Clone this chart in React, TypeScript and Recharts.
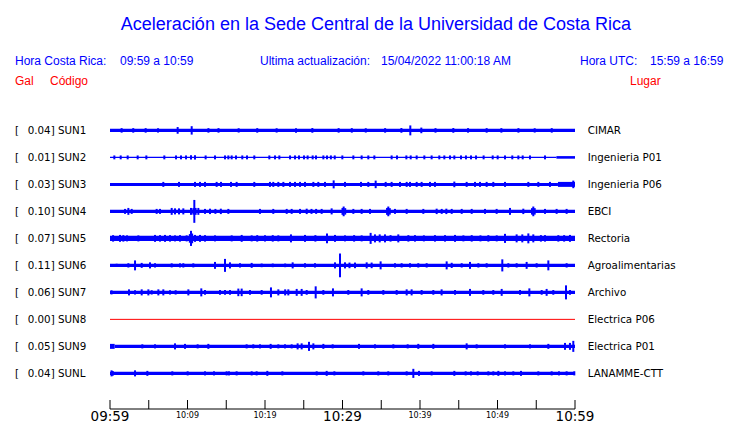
import React from "react";
import { ComposedChart, XAxis, YAxis, Scatter, ErrorBar, ReferenceArea, ReferenceLine } from "recharts";

const STATIONS = ["SUN1", "SUN2", "SUN3", "SUN4", "SUN5", "SUN6", "SUN7", "SUN8", "SUN9", "SUNL"];
const PEAK_GAL = ["0.04", "0.01", "0.03", "0.10", "0.07", "0.11", "0.06", "0.00", "0.05", "0.04"];
const PLACES = [
  "CIMAR",
  "Ingenieria P01",
  "Ingenieria P06",
  "EBCI",
  "Rectoria",
  "Agroalimentarias",
  "Archivo",
  "Electrica P06",
  "Electrica P01",
  "LANAMME-CTT",
];

// minutes after 09:59
const TICK_MINUTES = [0, 5, 10, 15, 20, 25, 30, 35, 40, 45, 50, 55, 60];
const TICK_LABELS = ["09:59", "", "10:09", "", "10:19", "", "10:29", "", "10:39", "", "10:49", "", "10:59"];
const BIG_TICKS = ["09:59", "10:29", "10:59"];

// background band of each trace: [from min, to min, half amplitude in Gal]
const sun1Base = [[0, 60, 0.016]];
const sun2Base = [[0, 57.6, 0.005], [57.6, 60, 0.012]];
const sun3Base = [[0, 57.8, 0.014], [57.8, 60, 0.023]];
const sun4Base = [[0, 60, 0.014]];
const sun5Base = [[0, 60, 0.025]];
const sun6Base = [[0, 60, 0.015]];
const sun7Base = [[0, 60, 0.016]];
const sun8Base: number[][] = [];
const sun9Base = [[0, 0.6, 0.023], [0.6, 60, 0.014]];
const sunlBase = [[0, 60, 0.015]];

// bursts: [minute, half amplitude in Gal]
const sun1Spikes = [
  [1.5, 0.021], [3.0, 0.021], [4.6, 0.021], [6.2, 0.02], [8.73, 0.031], [10.54, 0.039], [12.7, 0.021],
  [14.0, 0.021], [16.6, 0.02], [19.0, 0.021], [21.5, 0.02], [24.0, 0.021], [26.11, 0.022], [29.5, 0.021],
  [31.2, 0.021], [33.0, 0.02], [35.5, 0.021], [37.6, 0.022], [38.75, 0.046], [40.17, 0.026], [42.0, 0.021],
  [44.3, 0.022], [46.2, 0.021], [48.6, 0.021], [50.5, 0.021], [52.7, 0.021], [54.8, 0.02], [57.0, 0.021],
];
const sun2Spikes = [
  [0.56, 0.018], [1.38, 0.018], [2.28, 0.018], [3.57, 0.018], [4.69, 0.018], [7.01, 0.018], [8.52, 0.018],
  [9.16, 0.018], [9.81, 0.018], [10.45, 0.02], [10.97, 0.02], [12.34, 0.018], [13.55, 0.018], [14.84, 0.018],
  [15.27, 0.018], [15.7, 0.018], [16.26, 0.018], [17.07, 0.018], [17.68, 0.018], [18.62, 0.018], [20.56, 0.018],
  [21.29, 0.018], [21.85, 0.018], [23.23, 0.018], [23.87, 0.018], [24.39, 0.018], [25.03, 0.018], [25.5, 0.018],
  [26.15, 0.018], [26.58, 0.018], [27.53, 0.018], [28.0, 0.018], [28.5, 0.018], [29.0, 0.018], [29.98, 0.018],
  [31.4, 0.018], [32.47, 0.018], [33.33, 0.018], [34.11, 0.018], [36.34, 0.018], [37.03, 0.018], [38.24, 0.018],
  [38.8, 0.018], [39.57, 0.018], [40.56, 0.018], [41.5, 0.018], [42.49, 0.018], [43.14, 0.018], [43.87, 0.018],
  [44.43, 0.018], [45.29, 0.018], [45.93, 0.018], [46.58, 0.018], [47.23, 0.018], [48.21, 0.018], [49.38, 0.018],
  [50.02, 0.018], [50.97, 0.018], [51.91, 0.018], [52.69, 0.018], [53.25, 0.018], [54.19, 0.018], [56.13, 0.018],
];
const sun3Spikes = [
  [6.88, 0.023], [8.9, 0.023], [10.97, 0.023], [11.61, 0.023], [12.26, 0.023], [13.76, 0.023], [14.32, 0.023],
  [15.61, 0.023], [16.34, 0.023], [18.62, 0.023], [20.64, 0.023], [21.07, 0.023], [21.72, 0.023], [22.37, 0.023],
  [23.23, 0.023], [23.87, 0.023], [24.52, 0.023], [25.16, 0.023], [26.24, 0.023], [26.88, 0.023], [27.74, 0.023],
  [28.86, 0.037], [30.32, 0.023], [32.39, 0.023], [33.33, 0.023], [34.28, 0.035], [35.57, 0.023], [36.34, 0.023],
  [37.42, 0.023], [38.28, 0.023], [38.71, 0.023], [39.57, 0.023], [40.21, 0.023], [41.29, 0.023], [41.93, 0.023],
  [44.43, 0.026], [46.02, 0.023], [47.1, 0.023], [47.74, 0.023], [48.6, 0.023], [49.46, 0.023], [50.97, 0.023],
  [53.98, 0.023], [55.27, 0.023], [56.77, 0.023], [59.78, 0.035],
];
const sun4Spikes = [
  [1.94, 0.023], [2.37, 0.032], [2.8, 0.023], [6.02, 0.023], [6.45, 0.023], [7.96, 0.032], [8.39, 0.028],
  [8.9, 0.028], [9.46, 0.028], [10.45, 0.032], [10.75, 0.03], [10.88, 0.106], [11.05, 0.032], [11.4, 0.032],
  [12.26, 0.023], [12.9, 0.025], [13.6, 0.023], [14.3, 0.025], [15.27, 0.023], [19.35, 0.023], [21.07, 0.023],
  [22.8, 0.023], [23.44, 0.023], [24.52, 0.023], [25.38, 0.025], [26.0, 0.023], [26.6, 0.023], [27.31, 0.023],
  [28.6, 0.028], [30.0, 0.032], [30.15, 0.045], [30.35, 0.03], [31.4, 0.023], [32.47, 0.023], [33.55, 0.023],
  [35.75, 0.032], [35.91, 0.045], [36.1, 0.03], [36.77, 0.023], [38.28, 0.023], [40.43, 0.023], [42.15, 0.025],
  [42.8, 0.023], [43.4, 0.025], [44.09, 0.023], [45.38, 0.023], [46.67, 0.023], [48.39, 0.023], [49.89, 0.023],
  [51.61, 0.032], [53.33, 0.025], [54.45, 0.03], [54.62, 0.045], [54.8, 0.03], [56.13, 0.023], [57.63, 0.023],
  [58.92, 0.023],
];
const sun5Spikes = [
  [0.4, 0.03], [1.29, 0.032], [1.72, 0.03], [2.2, 0.028], [3.66, 0.028], [5.81, 0.032], [6.45, 0.03], [7.1, 0.032],
  [7.74, 0.03], [8.39, 0.028], [9.03, 0.03], [9.89, 0.028], [10.3, 0.04], [10.45, 0.07], [10.6, 0.045],
  [10.97, 0.032], [11.61, 0.032], [12.26, 0.03], [13.55, 0.028], [15.7, 0.028], [16.99, 0.032], [18.28, 0.028],
  [19.0, 0.03], [20.0, 0.028], [21.0, 0.03], [21.72, 0.028], [23.35, 0.037], [25.16, 0.032], [26.5, 0.03],
  [28.0, 0.045], [29.03, 0.032], [30.32, 0.028], [31.5, 0.03], [32.47, 0.028], [33.63, 0.051], [34.19, 0.037],
  [34.8, 0.037], [35.48, 0.037], [36.2, 0.03], [37.2, 0.037], [38.5, 0.03], [39.35, 0.03], [40.5, 0.028],
  [41.93, 0.03], [43.23, 0.03], [44.52, 0.032], [45.6, 0.028], [46.67, 0.03], [47.8, 0.028], [48.82, 0.03],
  [49.9, 0.028], [50.97, 0.042], [52.47, 0.037], [53.2, 0.037], [53.98, 0.046], [54.62, 0.037], [55.6, 0.03],
  [56.13, 0.03], [57.85, 0.03], [58.6, 0.03], [59.35, 0.032],
];
const sun6Spikes = [
  [0.86, 0.015], [2.37, 0.02], [3.23, 0.046], [4.09, 0.023], [5.16, 0.028], [5.81, 0.02], [7.96, 0.019],
  [9.03, 0.019], [9.46, 0.02], [10.75, 0.019], [13.55, 0.032], [14.84, 0.06], [15.48, 0.028], [16.77, 0.02],
  [18.28, 0.023], [19.57, 0.017], [21.0, 0.017], [22.6, 0.017], [23.57, 0.028], [25.16, 0.02], [26.45, 0.02],
  [29.03, 0.028], [29.68, 0.11], [30.32, 0.028], [30.9, 0.026], [31.61, 0.026], [33.12, 0.028], [33.76, 0.026],
  [34.92, 0.037], [36.77, 0.02], [37.63, 0.02], [38.71, 0.02], [39.78, 0.02], [40.86, 0.02], [43.44, 0.037],
  [44.09, 0.024], [45.38, 0.02], [46.45, 0.032], [47.53, 0.02], [48.6, 0.02], [50.62, 0.056], [51.4, 0.02],
  [52.47, 0.02], [53.76, 0.032], [55.05, 0.02], [56.56, 0.046], [58.92, 0.02],
];
const sun7Spikes = [
  [0.2, 0.019], [2.45, 0.028], [3.23, 0.02], [4.09, 0.028], [4.95, 0.028], [5.38, 0.02], [6.24, 0.028],
  [6.88, 0.028], [7.74, 0.02], [8.47, 0.02], [10.11, 0.028], [11.78, 0.037], [12.26, 0.022], [14.19, 0.022],
  [14.84, 0.022], [15.48, 0.022], [16.56, 0.035], [16.99, 0.035], [18.06, 0.022], [19.57, 0.022], [20.77, 0.046],
  [21.72, 0.028], [22.6, 0.028], [23.01, 0.028], [24.09, 0.032], [24.73, 0.032], [25.38, 0.022], [26.54, 0.056],
  [27.53, 0.022], [28.77, 0.037], [30.75, 0.022], [32.47, 0.037], [33.33, 0.022], [35.27, 0.022], [36.99, 0.022],
  [38.28, 0.028], [38.92, 0.028], [40.21, 0.022], [41.72, 0.022], [42.79, 0.028], [44.52, 0.022], [46.45, 0.032],
  [48.17, 0.022], [49.46, 0.022], [50.54, 0.032], [52.9, 0.022], [54.11, 0.037], [55.7, 0.022], [56.34, 0.032],
  [57.2, 0.022], [58.84, 0.065], [59.35, 0.022],
];
const sun8Spikes: number[][] = [];
const sun9Spikes = [
  [4.17, 0.019], [5.81, 0.019], [8.39, 0.028], [9.68, 0.023], [11.31, 0.019], [12.69, 0.023], [17.63, 0.019],
  [18.49, 0.019], [19.35, 0.019], [20.73, 0.023], [21.72, 0.019], [22.58, 0.019], [23.44, 0.019], [24.21, 0.028],
  [24.73, 0.028], [25.68, 0.042], [26.24, 0.028], [27.53, 0.023], [28.73, 0.019], [32.13, 0.023], [34.19, 0.019],
  [36.56, 0.019], [38.41, 0.019], [39.78, 0.023], [41.72, 0.023], [46.02, 0.028], [47.31, 0.019], [50.97, 0.019],
  [54.19, 0.019], [56.56, 0.023], [58.71, 0.032], [59.35, 0.032], [59.78, 0.051],
];
const sunlSpikes = [
  [0.2, 0.028], [0.35, 0.022], [3.23, 0.028], [4.82, 0.023], [8.04, 0.019], [10.02, 0.019], [12.26, 0.019],
  [13.42, 0.019], [15.05, 0.019], [15.35, 0.019], [16.34, 0.019], [18.28, 0.019], [18.92, 0.019], [20.3, 0.023],
  [22.24, 0.019], [26.67, 0.019], [27.96, 0.023], [28.95, 0.019], [32.69, 0.019], [34.62, 0.019], [35.91, 0.019],
  [38.28, 0.019], [39.14, 0.042], [39.87, 0.023], [41.5, 0.019], [44.43, 0.023], [45.89, 0.019], [46.58, 0.019],
  [47.44, 0.019], [48.82, 0.019], [49.46, 0.019], [50.11, 0.023], [50.97, 0.019], [52.04, 0.019], [53.03, 0.023],
  [55.27, 0.019], [56.99, 0.019], [57.93, 0.019], [58.92, 0.019], [59.91, 0.019],
];

const BASES = [sun1Base, sun2Base, sun3Base, sun4Base, sun5Base, sun6Base, sun7Base, sun8Base, sun9Base, sunlBase];
const SPIKES = [sun1Spikes, sun2Spikes, sun3Spikes, sun4Spikes, sun5Spikes, sun6Spikes, sun7Spikes, sun8Spikes, sun9Spikes, sunlSpikes];

const BLUE = "#0000ff";
const RED = "#ff0000";
const ROW_GAP = 0.25; // Gal between trace baselines
const rowOffset = (i: number) => (STATIONS.length - i) * ROW_GAP;
const ROW_TICKS = STATIONS.map((_, i) => rowOffset(i));
const Y_DOMAIN = [-0.08, 2.75];

const LABEL_FONT = "'DejaVu Sans', sans-serif";
const HEAD_FONT = "'Liberation Sans', Arial, sans-serif";

function stationAt(value: number) {
  return ROW_TICKS.findIndex((v) => Math.abs(v - value) < 1e-6);
}

function CodeTick({ y, payload }: any) {
  const i = stationAt(payload.value);
  if (i < 0) return null;
  return (
    <g fontFamily={LABEL_FONT} fontSize={10.3} fill="#000">
      <text x={15} y={y + 3.7}>[</text>
      <text x={27.7} y={y + 3.7}>{PEAK_GAL[i]}] {STATIONS[i]}</text>
    </g>
  );
}

function PlaceTick({ y, payload }: any) {
  const i = stationAt(payload.value);
  if (i < 0) return null;
  return (
    <text x={587.7} y={y + 3.7} fontFamily={LABEL_FONT} fontSize={10.3} fill="#000">
      {PLACES[i]}
    </text>
  );
}

function TimeTick({ x, y, payload }: any) {
  const label = TICK_LABELS[TICK_MINUTES.indexOf(payload.value)];
  const big = BIG_TICKS.includes(label);
  return (
    <g>
      <line x1={x} x2={x} y1={y - 9} y2={y} stroke="#000" />
      {label && (
        <text
          x={x}
          y={big ? y + 12 : y + 8.5}
          textAnchor="middle"
          fontFamily={LABEL_FONT}
          fontSize={big ? 13.5 : 8}
          fill="#000"
        >
          {label}
        </text>
      )}
    </g>
  );
}

const noPoint = () => <g />;

export default function App() {
  return (
    <div
      style={{
        position: "absolute",
        left: 0,
        top: 0,
        width: 740,
        height: 423,
        overflow: "hidden",
        background: "#fff",
      }}
    >
      <div
        style={{
          position: "absolute",
          left: 0,
          width: 752,
          top: 14.8,
          textAlign: "center",
          fontFamily: HEAD_FONT,
          fontSize: 18,
          lineHeight: "18px",
          color: BLUE,
          whiteSpace: "nowrap",
        }}
      >
        Aceleración en la Sede Central de la Universidad de Costa Rica
      </div>
      {[
        { x: 15, t: "Hora Costa Rica:" },
        { x: 120, t: "09:59 a 10:59" },
        { x: 260, t: "Ultima actualización:" },
        { x: 381, t: "15/04/2022 11:00:18 AM" },
        { x: 580, t: "Hora UTC:" },
        { x: 650, t: "15:59 a 16:59" },
      ].map((h) => (
        <div
          key={h.t}
          style={{
            position: "absolute",
            left: h.x,
            top: 54.8,
            fontFamily: HEAD_FONT,
            fontSize: 12,
            lineHeight: "12px",
            color: BLUE,
            whiteSpace: "nowrap",
          }}
        >
          {h.t}
        </div>
      ))}
      {[
        { x: 15, t: "Gal" },
        { x: 50, t: "Código" },
        { x: 630, t: "Lugar" },
      ].map((h) => (
        <div
          key={h.t}
          style={{
            position: "absolute",
            left: h.x,
            top: 74.8,
            fontFamily: HEAD_FONT,
            fontSize: 12,
            lineHeight: "12px",
            color: RED,
            whiteSpace: "nowrap",
          }}
        >
          {h.t}
        </div>
      ))}

      <div style={{ position: "absolute", left: 0, top: 0 }}>
        <ComposedChart width={740} height={423} margin={{ top: 103.4, right: 0, bottom: 0, left: 0 }}>
          <XAxis
            type="number"
            dataKey="t"
            domain={[0, 60]}
            allowDataOverflow
            ticks={TICK_MINUTES}
            interval={0}
            tickLine={false}
            tickSize={0}
            tickMargin={0}
            height={14}
            axisLine={{ stroke: "#000" }}
            tick={<TimeTick />}
          />
          <YAxis
            type="number"
            dataKey="y"
            domain={Y_DOMAIN}
            allowDataOverflow
            ticks={ROW_TICKS}
            interval={0}
            width={110}
            axisLine={false}
            tickLine={false}
            tick={<CodeTick />}
          />
          <YAxis
            yAxisId="place"
            orientation="right"
            type="number"
            domain={Y_DOMAIN}
            allowDataOverflow
            ticks={ROW_TICKS}
            interval={0}
            width={165}
            axisLine={false}
            tickLine={false}
            tick={<PlaceTick />}
          />
          {BASES.map((segs, i) =>
            segs.map(([a, b, amp], k) => (
              <ReferenceArea
                key={`b${i}-${k}`}
                x1={a}
                x2={b}
                y1={rowOffset(i) - amp}
                y2={rowOffset(i) + amp}
                fill={BLUE}
                fillOpacity={1}
                stroke="none"
              />
            ))
          )}
          <ReferenceLine y={rowOffset(7)} stroke={RED} strokeWidth={1} />
          {SPIKES.map((list, i) => (
            <Scatter
              key={STATIONS[i]}
              name={STATIONS[i]}
              data={list.map(([t, amp]) => ({ t, y: rowOffset(i), err: amp }))}
              dataKey="y"
              shape={noPoint}
              isAnimationActive={false}
            >
              <ErrorBar
                dataKey="err"
                direction="y"
                width={0}
                stroke={BLUE}
                strokeWidth={2}
                isAnimationActive={false}
              />
            </Scatter>
          ))}
        </ComposedChart>
      </div>
    </div>
  );
}
